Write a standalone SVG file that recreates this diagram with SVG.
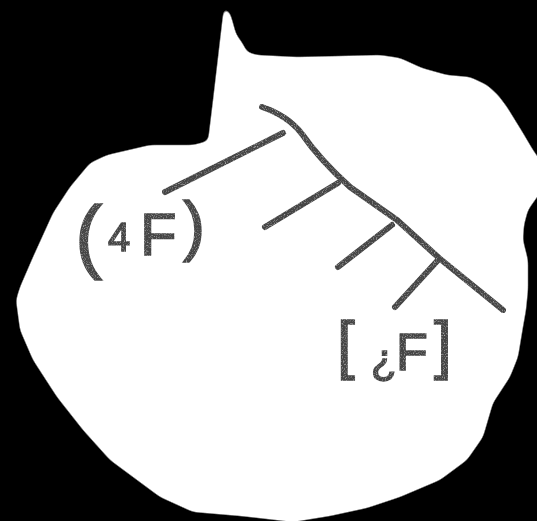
<svg xmlns="http://www.w3.org/2000/svg" width="537" height="521" viewBox="0 0 537 521">
<style>
.chalk{fill:none;stroke:#454545;stroke-width:6;stroke-linecap:round;stroke-linejoin:round}
.lbl{font-family:"Liberation Sans",Arial,sans-serif;fill:#454545;stroke:#454545;stroke-width:1.5}
</style>
<defs>
<filter id="grain" x="-5%" y="-5%" width="110%" height="110%">
<feTurbulence type="fractalNoise" baseFrequency="0.9" numOctaves="2" seed="3" result="n"/>
<feColorMatrix in="n" type="matrix" values="0 0 0 0 0  0 0 0 0 0  0 0 0 0 0  0 0 0 -1.5 1.75" result="m"/>
<feComposite in="SourceGraphic" in2="m" operator="in"/>
</filter>
<filter id="smooth" x="-5%" y="-5%" width="110%" height="110%">
<feGaussianBlur stdDeviation="3"/>
<feComponentTransfer><feFuncA type="linear" slope="6" intercept="-2.5"/></feComponentTransfer>
</filter>
</defs>
<rect width="537" height="521" fill="#000"/>
<path id="blob" fill="#fff" filter="url(#smooth)" d="M224,6 L230,13 L233,23 L236,34 L243,44 L247,52 L257,55 L297,57 L340,56 L380,55 L400,58 L422,68 L447,75 L470,77 L487,85 L498,95 L507,107 L523,133 L533,150 L540,160 L540,193 L528,210 L524,225 L523,240 L528,260 L528,290 L526,310 L523,327 L518,357 L510,377 L493,403 L483,437 L467,460 L440,480 L400,497 L367,508 L330,516 L293,522 L240,516 L193,512 L160,497 L110,460 L83,430 L57,397 L33,360 L20,330 L16,300 L20,287 L33,257 L53,213 L70,187 L90,163 L107,155 L150,145 L193,145 L208,141 L213,100 Z"/>
<g id="connectors" class="chalk" filter="url(#grain)">
<path d="M262,107 C280,113 292,121 302,134 Q320,160 350,187 L397,220 L439,258 L503,310"/>
<path d="M439,259 L395,307"/>
<path d="M165,192 L283,133"/>
<path d="M265,227 L338,183"/>
<path d="M338,267 L392,225"/>
</g>
<g id="label-4F" class="lbl" filter="url(#grain)">
<text x="75" y="263" font-size="82">(</text>
<text x="108" y="251" font-size="40">4</text>
<text x="140" y="255" font-size="60">F</text>
<text x="183" y="248" font-size="66">)</text>
</g>
<g id="label-iF" class="lbl" filter="url(#grain)">
<text x="337" y="367" font-size="64">[</text>
<text x="371" y="374" font-size="42">¿</text>
<text x="396" y="370" font-size="52">F</text>
<text x="434" y="367" font-size="64">]</text>
</g>
</svg>
